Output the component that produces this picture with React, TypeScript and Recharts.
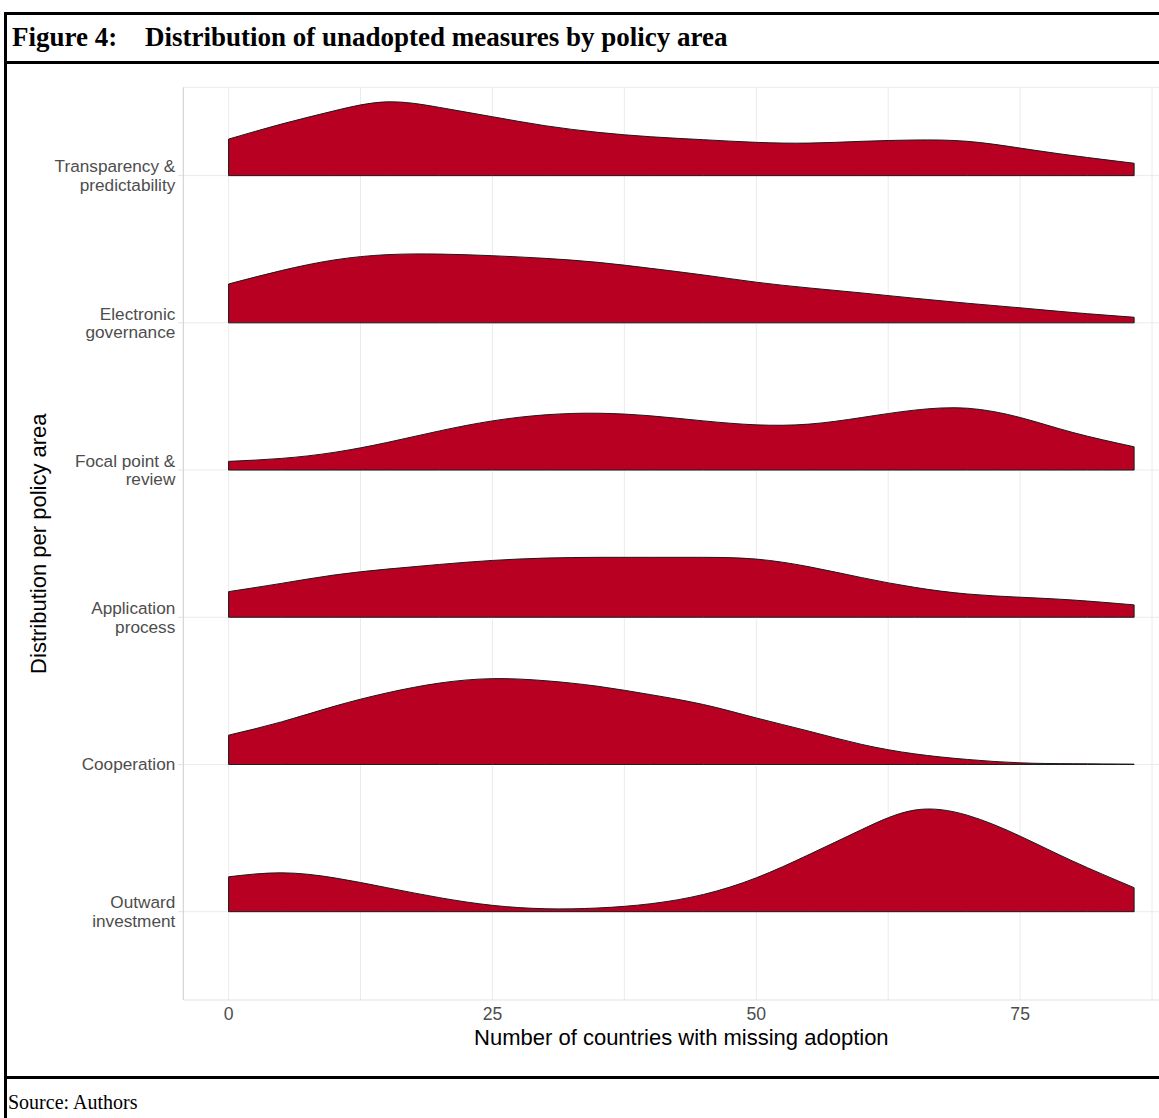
import React from "react";
import {
  ComposedChart,
  Area,
  XAxis,
  YAxis,
  CartesianGrid,
  ReferenceLine,
  Label,
} from "recharts";

// ─── Data ────────────────────────────────────────────────────────────────────
// x = number of countries with missing adoption, heights in units of row spacing
const xs = [0, 5, 10, 15, 20, 25, 30, 35, 40, 45, 50, 55, 60, 65, 70, 75, 80, 85.8];

const transparency = [0.248, 0.35, 0.44, 0.501, 0.463, 0.4, 0.339, 0.294, 0.264, 0.244, 0.226, 0.221, 0.233, 0.242, 0.233, 0.187, 0.136, 0.084];
const electronic = [0.264, 0.355, 0.427, 0.463, 0.467, 0.456, 0.438, 0.411, 0.37, 0.325, 0.276, 0.237, 0.203, 0.167, 0.133, 0.102, 0.07, 0.038];
const focal = [0.059, 0.079, 0.12, 0.187, 0.266, 0.334, 0.375, 0.386, 0.368, 0.334, 0.307, 0.312, 0.357, 0.407, 0.42, 0.357, 0.255, 0.158];
const application = [0.174, 0.23, 0.287, 0.327, 0.359, 0.386, 0.402, 0.407, 0.407, 0.407, 0.395, 0.343, 0.269, 0.203, 0.158, 0.136, 0.117, 0.084];
const cooperation = [0.199, 0.289, 0.395, 0.486, 0.553, 0.583, 0.569, 0.531, 0.474, 0.407, 0.316, 0.226, 0.136, 0.072, 0.034, 0.011, 0.005, 0.002];
const outward = [0.237, 0.264, 0.23, 0.163, 0.095, 0.043, 0.02, 0.025, 0.054, 0.117, 0.23, 0.388, 0.558, 0.69, 0.655, 0.513, 0.343, 0.163];

// policy areas from bottom (1) to top (6)
const areaLabels = [
  "Outward\ninvestment",
  "Cooperation",
  "Application\nprocess",
  "Focal point &\nreview",
  "Electronic\ngovernance",
  "Transparency &\npredictability",
];
const areaSeries = [outward, cooperation, application, focal, electronic, transparency];

const xTicks = [0, 25, 50, 75];
const xGrid = [0, 12.5, 25, 37.5, 50, 62.5, 75, 87.5];
const yTicks = [1, 2, 3, 4, 5, 6];

const FILL = "#B80022";
const EDGE = "#1a1a1a";
const SANS = "'Liberation Sans', Arial, Helvetica, sans-serif";
const SERIF = "'Liberation Serif', 'Times New Roman', serif";

// table for recharts: each ridge is a range [baseline, baseline + height]
const rows = xs.map((x, i) => {
  const row: Record<string, number | number[]> = { x };
  areaSeries.forEach((s, k) => {
    row["r" + k] = [k + 1, k + 1 + s[i]];
  });
  return row;
});

const YTick = ({ x, y, payload }: { x?: number; y?: number; payload?: { value: number } }) => {
  const lines = (areaLabels[(payload?.value ?? 1) - 1] || "").split("\n");
  const lh = 18.5;
  const start = (y ?? 0) - ((lines.length - 1) * lh) / 2;
  return (
    <text textAnchor="end" fill="#4d4d4d" fontSize={17.2} fontFamily={SANS}>
      {lines.map((l, i) => (
        <tspan key={i} x={x} y={start + i * lh} dy="0.35em">
          {l}
        </tspan>
      ))}
    </text>
  );
};

const titleStyle: React.CSSProperties = {
  position: "absolute",
  top: 24,
  fontFamily: SERIF,
  fontWeight: "bold",
  fontSize: 27,
  lineHeight: "27px",
  whiteSpace: "nowrap",
};

export default function App() {
  const last = xs.length - 1;
  return (
    <div
      style={{
        position: "absolute",
        left: 0,
        top: 0,
        width: 1159,
        height: 1118,
        overflow: "hidden",
        background: "#fff",
      }}
    >
      {/* ── frame ─────────────────────────────────────────────────────── */}
      <div style={{ position: "absolute", left: 4, top: 12, width: 1200, height: 3, background: "#000" }} />
      <div style={{ position: "absolute", left: 4, top: 61, width: 1200, height: 3, background: "#000" }} />
      <div style={{ position: "absolute", left: 4, top: 1076, width: 1200, height: 3, background: "#000" }} />
      <div style={{ position: "absolute", left: 4, top: 12, width: 3, height: 1120, background: "#000" }} />

      <div style={{ ...titleStyle, left: 12 }}>Figure 4:</div>
      <div style={{ ...titleStyle, left: 145 }}>
        Distribution of unadopted measures by policy area
      </div>

      <div
        style={{
          position: "absolute",
          left: 8,
          top: 1092,
          fontFamily: SERIF,
          fontSize: 20,
          lineHeight: "20px",
          whiteSpace: "nowrap",
        }}
      >
        Source: Authors
      </div>

      {/* ── ridgeline chart ───────────────────────────────────────────── */}
      <div style={{ position: "absolute", left: 0, top: 62 }}>
        <ComposedChart
          width={1200}
          height={1015}
          data={rows}
          margin={{ top: 25.3, right: 20.6, bottom: 0, left: 0 }}
        >
          <CartesianGrid
            stroke="#ebebeb"
            strokeWidth={1}
            verticalValues={xGrid}
            horizontalValues={yTicks}
          />
          <XAxis
            type="number"
            dataKey="x"
            domain={[-4.29, 90.09]}
            ticks={xTicks}
            allowDataOverflow
            height={77}
            axisLine={{ stroke: "#e3e3e3" }}
            tickLine={false}
            tick={{ fill: "#4d4d4d", fontSize: 17.6, fontFamily: SANS }}
          >
            <Label
              content={({ viewBox }: any) => (
                <text
                  x={viewBox.x + viewBox.width / 2}
                  y={viewBox.y + 37}
                  dy="0.35em"
                  textAnchor="middle"
                  fill="#000"
                  fontSize={22}
                  fontFamily={SANS}
                >
                  Number of countries with missing adoption
                </text>
              )}
            />
          </XAxis>
          <YAxis
            type="number"
            domain={[0.4, 6.6]}
            ticks={yTicks}
            allowDataOverflow
            width={183.3}
            axisLine={{ stroke: "#cccccc" }}
            tickLine={{ stroke: "#e0e0e0" }}
            tickSize={5}
            tickMargin={3}
            tick={<YTick />}
          >
            <Label
              content={({ viewBox }: any) => (
                <text
                  x={38}
                  y={viewBox.y + viewBox.height / 2}
                  dy="0.35em"
                  textAnchor="middle"
                  transform={`rotate(-90, 38, ${viewBox.y + viewBox.height / 2})`}
                  fill="#000"
                  fontSize={22}
                  fontFamily={SANS}
                >
                  Distribution per policy area
                </text>
              )}
            />
          </YAxis>

          <ReferenceLine y={6.6} stroke="#ebebeb" />

          {areaSeries.map((_, k) => (
            <Area
              key={"r" + k}
              type="natural"
              dataKey={"r" + k}
              stroke={EDGE}
              strokeWidth={1}
              fill={FILL}
              fillOpacity={1}
              dot={false}
              activeDot={false}
              isAnimationActive={false}
            />
          ))}

          {/* closing edges of each ridge */}
          {areaSeries.map((s, k) => (
            <ReferenceLine
              key={"s" + k}
              segment={[
                { x: xs[0], y: k + 1 },
                { x: xs[0], y: k + 1 + s[0] },
              ]}
              stroke={EDGE}
              strokeWidth={1}
            />
          ))}
          {areaSeries.map((s, k) => (
            <ReferenceLine
              key={"e" + k}
              segment={[
                { x: xs[last], y: k + 1 },
                { x: xs[last], y: k + 1 + s[last] },
              ]}
              stroke={EDGE}
              strokeWidth={1}
            />
          ))}
        </ComposedChart>
      </div>
    </div>
  );
}
